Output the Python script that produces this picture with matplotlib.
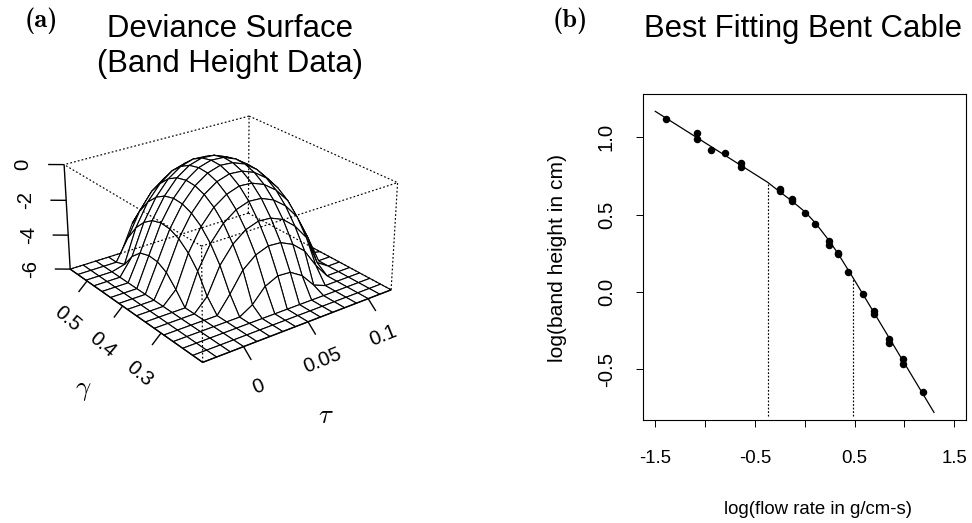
import numpy as np
import matplotlib
matplotlib.use("Agg")
import matplotlib.pyplot as plt
from mpl_toolkits.mplot3d import proj3d

plt.rcParams['font.family'] = ['Liberation Sans', 'DejaVu Sans']
plt.rcParams['mathtext.fontset'] = 'cm'

# deviance surface
tau = [-0.03, -0.02, -0.01, 0.0, 0.01, 0.02, 0.03, 0.04, 0.05, 0.06, 0.07, 0.08, 0.09, 0.10, 0.11, 0.12]
gam = [0.2, 0.223, 0.247, 0.27, 0.293, 0.317, 0.34, 0.363, 0.387, 0.41, 0.433, 0.457, 0.48, 0.503, 0.527, 0.55]
dev = [
    [-6, -6, -6, -6, -6, -6, -6, -6, -6, -6, -6, -6, -6, -6, -6, -6],
    [-6, -6, -6, -6, -6, -6, -6, -6, -6, -6, -6, -6, -6, -6, -6, -6],
    [-6, -6, -6, -6, -6, -6, -6, -6, -6, -6, -6, -6, -6, -6, -6, -6],
    [-6, -6, -6, -6, -6, -6, -5.57, -4.78, -4.44, -4.49, -4.93, -5.72, -6, -6, -6, -6],
    [-6, -6, -6, -6, -6, -5.05, -3.96, -3.36, -3.09, -3.14, -3.47, -4.08, -5.15, -6, -6, -6],
    [-6, -6, -6, -6, -5.27, -3.78, -2.85, -2.28, -2.03, -2.08, -2.38, -2.97, -3.85, -5.55, -6, -6],
    [-6, -6, -6, -6, -4.18, -2.88, -2.0, -1.47, -1.22, -1.27, -1.57, -2.11, -2.95, -4.4, -6, -6],
    [-6, -6, -6, -5.29, -3.48, -2.24, -1.4, -0.9, -0.65, -0.7, -0.98, -1.5, -2.3, -3.69, -5.84, -6],
    [-6, -6, -6, -4.66, -3.0, -1.81, -0.99, -0.49, -0.26, -0.31, -0.58, -1.09, -1.87, -3.22, -5.21, -6],
    [-6, -6, -6, -4.37, -2.75, -1.58, -0.78, -0.28, -0.05, -0.1, -0.37, -0.88, -1.64, -2.97, -4.89, -6],
    [-6, -6, -6, -4.33, -2.7, -1.54, -0.74, -0.24, -0.02, -0.06, -0.34, -0.84, -1.61, -2.92, -4.83, -6],
    [-6, -6, -6, -4.5, -2.87, -1.7, -0.88, -0.38, -0.16, -0.2, -0.48, -0.98, -1.76, -3.09, -5.05, -6],
    [-6, -6, -6, -5.01, -3.26, -2.04, -1.2, -0.7, -0.48, -0.52, -0.8, -1.31, -2.1, -3.48, -5.56, -6],
    [-6, -6, -6, -5.8, -3.86, -2.58, -1.74, -1.2, -0.98, -1.02, -1.3, -1.85, -2.66, -4.1, -6, -6],
    [-6, -6, -6, -6, -4.76, -3.4, -2.47, -1.93, -1.69, -1.74, -2.03, -2.59, -3.47, -5.05, -6, -6],
    [-6, -6, -6, -6, -6, -4.42, -3.49, -2.89, -2.62, -2.67, -3.0, -3.61, -4.52, -6, -6, -6],
]
tau_ticks = [0, 0.05, 0.1]
tau_labels = ['0', '0.05', '0.1']
gam_ticks = [0.3, 0.4, 0.5]
gam_labels = ['0.3', '0.4', '0.5']
dev_ticks = [0, -2, -4, -6]
dev_labels = ['0', '-2', '-4', '-6']

# band height data
log_flow = [-1.396, -1.083, -1.083, -0.942, -0.802, -0.635, -0.635, -0.251, -0.251, -0.127, -0.127, 0.003, 0.107,
            0.243, 0.243, 0.334, 0.334, 0.431, 0.588, 0.698, 0.698, 0.845, 0.845, 0.982, 0.982, 1.182]
log_height = [1.118, 1.026, 0.989, 0.918, 0.899, 0.834, 0.809, 0.669, 0.656, 0.602, 0.589, 0.512, 0.437,
              0.331, 0.301, 0.252, 0.243, 0.131, -0.011, -0.125, -0.14, -0.301, -0.327, -0.43, -0.462, -0.649]
fit_x = [-1.5, -0.374, -0.251, -0.127, 0.003, 0.107, 0.243, 0.334, 0.484, 1.296]
fit_y = [1.168, 0.71, 0.648, 0.587, 0.518, 0.446, 0.333, 0.248, 0.092, -0.778]
knot_x = [-0.374, 0.484]
knot_y = [0.71, 0.092]
x_ticks = [-1.5, -1.0, -0.5, 0.0, 0.5, 1.0, 1.5]
x_labels = ['-1.5', '', '-0.5', '', '0.5', '', '1.5']
y_ticks = [-0.5, 0.0, 0.5, 1.0]
y_labels = ['-0.5', '0.0', '0.5', '1.0']

fs_title = 22.4
fs = 13.4
fs_rot = 14.6
W, H = 972, 523
fig = plt.figure(figsize=(W / 100, H / 100), dpi=100)

# (a) surface
S = 340
cx, cy = 223.5, 232
ax = fig.add_axes([(cx - S / 2) / W, 1 - (cy + S / 2) / H, S / W, S / H],
                  projection='3d', computed_zorder=False)
ax.set_axis_off()
ax.patch.set_alpha(0)
ax.set_proj_type('persp', focal_length=0.7)
ax.view_init(elev=25, azim=-127)
ax.set_box_aspect((1, 1, 0.5))
x0, x1 = tau[0], tau[-1]
y0, y1 = gam[0], gam[-1]
z0, z1 = -6, 0
ax.set_xlim(x0, x1)
ax.set_ylim(y0, y1)
ax.set_zlim(z0, z1)
X, Y = np.meshgrid(tau, gam)
ax.plot_surface(X, Y, np.array(dev), rstride=1, cstride=1, color='white', edgecolor='black',
                linewidth=0.8, shade=False, zorder=2)

dot = dict(color='black', lw=0.85, ls=(0, (1.5, 1.8)), zorder=3, clip_on=False)
for a, b, c, d, e, f in [(x0, y0, z1, x1, y0, z1), (x0, y0, z1, x0, y1, z1), (x1, y1, z1, x1, y0, z1),
                         (x1, y1, z1, x0, y1, z1), (x0, y0, z0, x0, y0, z1), (x1, y0, z0, x1, y0, z1),
                         (x1, y1, z0, x1, y1, z1), (x1, y1, z0, x0, y1, z0), (x1, y1, z0, x1, y0, z0)]:
    ax.plot([a, d], [b, e], [c, f], **dot)
sol = dict(color='black', lw=1.0, zorder=4, solid_capstyle='butt', clip_on=False)
ax.plot([x0, x1], [y0, y0], [z0, z0], **sol)
ax.plot([x0, x0], [y0, y1], [z0, z0], **sol)
ax.plot([x0, x0], [y1, y1], [z0, z1], **sol)


def label3d(x, y, z, s, size, rot=0):
    px, py, _ = proj3d.proj_transform(x, y, z, ax.get_proj())
    ax.text2D(px, py, s, transform=ax.transData, fontsize=size, rotation=rot, ha='center', va='center')


dx, dy, dz = x1 - x0, y1 - y0, z1 - z0
for t, lab in zip(tau_ticks, tau_labels):
    ax.plot([t, t], [y0, y0 - 0.05 * dy], [z0, z0 - 0.075 * dz], **sol)
    label3d(t, y0 - 0.10 * dy, z0 - 0.268 * dz, lab, fs_rot, 22)
for g, lab in zip(gam_ticks, gam_labels):
    ax.plot([x0, x0 - 0.045 * dx], [g, g], [z0, z0 - 0.08 * dz], **sol)
    label3d(x0 - 0.10 * dx, g + 0.004, z0 - 0.32 * dz, lab, fs_rot, -40)
for z, lab in zip(dev_ticks, dev_labels):
    ax.plot([x0, x0 - 0.054 * dx], [y1, y1 + 0.042 * dy], [z, z], **sol)
    label3d(x0 - 0.14 * dx, y1 + 0.105 * dy, z, lab, fs_rot, 90)
label3d(0.02, y0 - 0.35 * dy, z0 - 0.385 * dz, r'$\tau$', fs + 6)
label3d(x0 - 0.32 * dx, 0.332, z0 - 0.39 * dz, r'$\gamma$', fs + 6)

fig.text(229.5 / W, 1 - 29 / H, 'Deviance Surface', fontsize=fs_title, ha='center', va='center')
fig.text(229.5 / W, 1 - 64 / H, '(Band Height Data)', fontsize=fs_title, ha='center', va='center')
fig.text(41 / W, 1 - 21 / H, '(a)', fontsize=19, family='cmb10', ha='center', va='center')
fig.text(803 / W, 1 - 29 / H, 'Best Fitting Bent Cable', fontsize=fs_title, ha='center', va='center')
fig.text(570 / W, 1 - 21 / H, '(b)', fontsize=19, family='cmb10', ha='center', va='center')

# (b) fitted cable
ax2 = fig.add_axes([643 / W, 1 - 420 / H, 323 / W, 326 / H])
ax2.plot(log_flow, log_height, 'o', color='black', ms=5.4, mew=0)
ax2.plot(fit_x, fit_y, color='black', lw=0.9)
for kx, ky in zip(knot_x, knot_y):
    ax2.plot([kx, kx], [-0.8, ky], color='black', lw=0.85, ls=(0, (1.5, 1.5)))
ax2.set_xlim(-1.623, 1.617)
ax2.set_ylim(-0.827, 1.28)
ax2.set_xticks(x_ticks, x_labels, fontsize=fs)
ax2.set_yticks(y_ticks, y_labels, fontsize=fs_rot, rotation=90, va='center')
ax2.tick_params(length=5, width=0.7)
ax2.tick_params(axis='x', pad=16.5)
ax2.tick_params(axis='y', pad=14.5)
for s in ax2.spines.values():
    s.set_linewidth(0.8)
fig.text(818 / W, 1 - 509 / H, 'log(flow rate in g/cm-s)', fontsize=fs, ha='center', va='center')
fig.text(557 / W, 1 - 257.5 / H, 'log(band height in cm)', fontsize=15.1, rotation=90, ha='center', va='center')

fig.savefig('out.png', dpi=100)
